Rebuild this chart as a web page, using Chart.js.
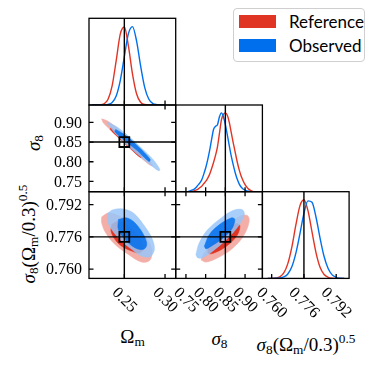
<!DOCTYPE html>
<html lang="en">
<head>
<meta charset="UTF-8" />
<title>Corner plot</title>
<script src="https://cdn.jsdelivr.net/npm/chart.js"></script>
<style>
    body {
        margin: 0;
        background: #fff;
    }
    #fig {
        position: relative;
        width: 374px;
        height: 374px;
        overflow: hidden;
        font-family: 'Liberation Serif', serif;
    }
    #fig canvas {
        position: absolute;
        left: 0;
        top: 0;
    }
    .title {
        position: absolute;
        font-size: 19px;
        line-height: 1;
        white-space: nowrap;
        transform: translate(-50%, -50%);
    }
    .title.rot {
        transform: translate(-50%, -50%) rotate(-90deg);
    }
    .title sub, .title sup {
        font-size: 70%;
        line-height: 0;
    }
    .title sub { vertical-align: -0.3em; }
    .title sup { vertical-align: 0.55em; }
    #legend {
        position: absolute;
        left: 233px;
        top: 8px;
        width: 132px;
        height: 54px;
        box-sizing: border-box;
        border: 1px solid #cfcfcf;
        border-radius: 4px;
        background: #fff;
        font-family: Lato, sans-serif;
        font-size: 17px;
    }
    .row { position: absolute; left: 0; height: 14px; }
    .sw { position: absolute; left: 5px; top: 0; width: 37px; height: 13px; }
    .txt { position: absolute; left: 55px; top: -3px; line-height: 20px; white-space: nowrap; }
</style>
</head>
<body>
<div id="fig">
    <div id="legend"></div>
    <div class="title rot" style="left:33px; top:143px"><i>σ</i><sub>8</sub></div>
    <div class="title rot" style="left:28px; top:234px"><i>σ</i><sub>8</sub>(Ω<sub>m</sub>/0.3)<sup>0.5</sup></div>
    <div class="title" style="left:132.5px; top:336px">Ω<sub>m</sub></div>
    <div class="title" style="left:219.5px; top:338px"><i>σ</i><sub>8</sub></div>
    <div class="title" style="left:306px; top:344px"><i>σ</i><sub>8</sub>(Ω<sub>m</sub>/0.3)<sup>0.5</sup></div>
</div>
<script>
// series
const seriesNames = ['Reference', 'Observed'];
const seriesColors = ['#E03424', '#006FED'];

// axis ranges and ticks
const omRange = [0.2066, 0.3131];
const sigRange = [0.724, 0.944];
const s8Range = [0.7554, 0.7984];
const pdfRange = [0, 1.1];
const omTicks = [0.25, 0.30];
const omTickText = ['0.25', '0.30'];
const sigTicks = [0.75, 0.80, 0.85, 0.90];
const sigTickText = ['0.75', '0.80', '0.85', '0.90'];
const s8Ticks = [0.760, 0.776, 0.792];
const s8TickText = ['0.760', '0.776', '0.792'];
const truth = { om: 0.25, sig: 0.85, s8: 0.776 };

// 1D marginals
const omGrid = [0.210, 0.215, 0.220, 0.225, 0.230, 0.235, 0.240, 0.245, 0.250, 0.255,
    0.260, 0.265, 0.270, 0.275, 0.280, 0.285, 0.290, 0.295, 0.300];
const omRed = [0, 0.0002, 0.002, 0.015, 0.073, 0.243, 0.563, 0.899, 0.989, 0.751,
    0.394, 0.142, 0.035, 0.006, 0.001, 0, 0, 0, 0];
const omBlue = [0, 0, 0, 0.001, 0.007, 0.032, 0.115, 0.31, 0.613, 0.905,
    0.995, 0.814, 0.496, 0.224, 0.076, 0.019, 0.004, 0.0005, 0];

const sigGrid = [0.750, 0.755, 0.760, 0.765, 0.770, 0.775, 0.780, 0.785, 0.790, 0.795,
    0.800, 0.805, 0.810, 0.815, 0.820, 0.825, 0.830, 0.835, 0.840, 0.845,
    0.850, 0.855, 0.860, 0.865, 0.870, 0.875, 0.880, 0.885, 0.890, 0.895,
    0.900, 0.905, 0.910, 0.915, 0.920];
const sigRed = [0, 0, 0, 0.005, 0.01, 0.02, 0.03, 0.05, 0.07, 0.10,
    0.13, 0.17, 0.22, 0.29, 0.37, 0.46, 0.57, 0.74, 0.91, 0.98,
    1.00, 0.97, 0.88, 0.75, 0.62, 0.50, 0.38, 0.28, 0.20, 0.14,
    0.09, 0.055, 0.03, 0.015, 0.005];
const sigBlue = [0, 0, 0.01, 0.02, 0.03, 0.05, 0.08, 0.11, 0.15, 0.22,
    0.30, 0.40, 0.52, 0.66, 0.79, 0.83, 0.85, 0.95, 1.00, 0.95,
    0.85, 0.72, 0.58, 0.45, 0.34, 0.24, 0.16, 0.10, 0.06, 0.035,
    0.02, 0.01, 0.005, 0, 0];

const s8Grid = [0.758, 0.760, 0.762, 0.764, 0.766, 0.768, 0.770, 0.772, 0.774, 0.776,
    0.778, 0.780, 0.782, 0.784, 0.786, 0.788, 0.790, 0.792, 0.794, 0.796];
const s8Red = [0, 0.001, 0.005, 0.02, 0.069, 0.187, 0.397, 0.678, 0.92, 0.997,
    0.86, 0.59, 0.325, 0.141, 0.05, 0.014, 0.003, 0, 0, 0];
const s8Blue = [0, 0, 0.001, 0.0045, 0.018, 0.056, 0.147, 0.32, 0.565, 0.825,
    0.984, 0.965, 0.776, 0.51, 0.278, 0.125, 0.045, 0.014, 0.003, 0];

// 2D contours, [x, y] outline points
const redOuterA = [[0.2222, 0.9088], [0.2304, 0.9021], [0.2427, 0.8819], [0.2591, 0.8508], [0.2734, 0.8215], [0.2836, 0.7963],
    [0.2844, 0.7895], [0.2795, 0.7946], [0.2631, 0.8231], [0.2468, 0.8525], [0.2324, 0.8819], [0.2242, 0.8987]];
const redInnerA = [[0.2337, 0.8870], [0.2468, 0.8634], [0.2631, 0.8315], [0.2722, 0.8131],
    [0.2693, 0.8114], [0.2570, 0.8340], [0.2427, 0.8618], [0.2328, 0.8819]];
const blueOuterA = [[0.2296, 0.9004], [0.2406, 0.8886], [0.2550, 0.8651], [0.2713, 0.8340], [0.2857, 0.8047], [0.2934, 0.7812],
    [0.2926, 0.7770], [0.2857, 0.7862], [0.2693, 0.8139], [0.2529, 0.8433], [0.2386, 0.8727], [0.2304, 0.8953]];
const blueInnerA = [[0.2394, 0.8819], [0.2509, 0.8676], [0.2672, 0.8382], [0.2816, 0.8063],
    [0.2803, 0.8005], [0.2652, 0.8298], [0.2488, 0.8567], [0.2386, 0.8760]];

const redOuterB = [[0.2222, 0.7859], [0.2304, 0.7878], [0.2427, 0.7865], [0.2591, 0.7829], [0.2754, 0.7763], [0.2836, 0.7698],
    [0.2816, 0.7645], [0.2713, 0.7635], [0.2550, 0.7673], [0.2386, 0.7722], [0.2271, 0.7780], [0.2222, 0.7829]];
const redInnerB = [[0.2345, 0.7821], [0.2427, 0.7837], [0.2550, 0.7813], [0.2672, 0.7763], [0.2734, 0.7706],
    [0.2693, 0.7681], [0.2591, 0.7690], [0.2468, 0.7714], [0.2386, 0.7747], [0.2337, 0.7788]];
const blueOuterB = [[0.2296, 0.7878], [0.2365, 0.7895], [0.2488, 0.7898], [0.2611, 0.7878], [0.2734, 0.7821], [0.2836, 0.7755],
    [0.2869, 0.7698], [0.2816, 0.7662], [0.2713, 0.7665], [0.2591, 0.7698], [0.2447, 0.7747], [0.2345, 0.7796], [0.2296, 0.7837]];
const blueInnerB = [[0.2427, 0.7846], [0.2529, 0.7854], [0.2631, 0.7829], [0.2734, 0.7772], [0.2775, 0.7722],
    [0.2734, 0.7698], [0.2631, 0.7706], [0.2509, 0.7747], [0.2427, 0.7796]];

const redOuterC = [[0.7883, 0.7645], [0.7968, 0.7681], [0.8226, 0.7739], [0.8569, 0.7813], [0.8869, 0.7862], [0.9066, 0.7865],
    [0.9100, 0.7832], [0.8955, 0.7763], [0.8654, 0.7698], [0.8311, 0.7657], [0.8011, 0.7635]];
const redInnerC = [[0.8054, 0.7698], [0.8226, 0.7747], [0.8526, 0.7800], [0.8783, 0.7826], [0.8869, 0.7813],
    [0.8783, 0.7763], [0.8526, 0.7714], [0.8226, 0.7681], [0.8071, 0.7678]];
const blueOuterC = [[0.7754, 0.7673], [0.7840, 0.7731], [0.8054, 0.7796], [0.8397, 0.7854], [0.8697, 0.7891], [0.8929, 0.7895],
    [0.8980, 0.7870], [0.8826, 0.7813], [0.8526, 0.7747], [0.8183, 0.7690], [0.7925, 0.7657], [0.7797, 0.7657]];
const blueInnerC = [[0.7968, 0.7714], [0.8097, 0.7772], [0.8354, 0.7821], [0.8654, 0.7854], [0.8740, 0.7846],
    [0.8654, 0.7796], [0.8397, 0.7747], [0.8140, 0.7714], [0.8011, 0.7701]];

const TICK_FONT = '16px "Liberation Serif", "DejaVu Serif", serif';

// legend
const legend = document.getElementById('legend');
seriesNames.forEach((name, i) => {
    const row = document.createElement('div');
    row.className = 'row';
    row.style.top = (6 + i * 24.3) + 'px';
    row.innerHTML = `<div class="sw" style="background:${seriesColors[i]}"></div><div class="txt">${name}</div>`;
    legend.appendChild(row);
});

// colours for filled contours (outer level is the paled colour)
function pale(hex, f) {
    const n = parseInt(hex.slice(1), 16);
    const c = [n >> 16, (n >> 8) & 255, n & 255].map((v) => Math.round(v * (1 - f) + 255 * f));
    return `rgb(${c.join(',')})`;
}
function withAlpha(col, a) {
    return col.replace('rgb(', 'rgba(').replace(')', `,${a})`);
}

// frame, inward ticks and tick labels
const framePlugin = {
    id: 'frame',
    afterDatasetsDraw(chart, args, o) {
        const { ctx, chartArea: a, scales } = chart;
        const x = scales.x, y = scales.y;
        const TL = 4.5;
        ctx.save();
        ctx.strokeStyle = '#000';
        ctx.lineWidth = 1.3;
        ctx.beginPath();
        o.xTicks.forEach((v) => {
            const px = x.getPixelForValue(v);
            ctx.moveTo(px, a.bottom); ctx.lineTo(px, a.bottom - TL);
            if (o.allSides) { ctx.moveTo(px, a.top); ctx.lineTo(px, a.top + TL); }
        });
        (o.yTicks || []).forEach((v) => {
            const py = y.getPixelForValue(v);
            ctx.moveTo(a.left, py); ctx.lineTo(a.left + TL, py);
            ctx.moveTo(a.right, py); ctx.lineTo(a.right - TL, py);
        });
        ctx.stroke();
        ctx.strokeRect(a.left, a.top, a.right - a.left, a.bottom - a.top);

        ctx.fillStyle = '#000';
        ctx.font = TICK_FONT;
        if (o.yText) {
            ctx.textAlign = 'right';
            ctx.textBaseline = 'middle';
            o.yTicks.forEach((v, i) => ctx.fillText(o.yText[i], a.left - 7, y.getPixelForValue(v) + 1));
        }
        if (o.xText) {
            o.xTicks.forEach((v, i) => {
                const t = o.xText[i];
                const w = ctx.measureText(t).width;
                const half = (w + 11) * Math.SQRT1_2 / 2;
                ctx.save();
                ctx.translate(x.getPixelForValue(v), a.bottom + 8 + half);
                ctx.rotate(Math.PI / 4);
                ctx.textAlign = 'center';
                ctx.textBaseline = 'middle';
                ctx.fillText(t, 0, 0);
                ctx.restore();
            });
        }
        ctx.restore();
    },
};

const cell = 86.7;
function padFor(col, row) {
    const l = 89 + col * cell, t = 18.3 + row * cell;
    return { left: l, top: t, right: 374 - (l + cell), bottom: 374 - (t + cell) };
}

const toPts = (grid, vals) => grid.map((g, i) => ({ x: g, y: vals[i] }));
const toLoop = (arr) => arr.concat([arr[0]]).map((p) => ({ x: p[0], y: p[1] }));

function curve(grid, vals, color, order) {
    return {
        data: toPts(grid, vals), borderColor: color, borderWidth: 1.4,
        cubicInterpolationMode: 'monotone', fill: false, order,
    };
}
function contour(pts, color, order) {
    return {
        data: toLoop(pts), backgroundColor: color, borderColor: color, borderWidth: 0.6,
        fill: 'shape', tension: 0.35, order,
    };
}
function vline(v, range) {
    return { data: [{ x: v, y: range[0] }, { x: v, y: range[1] }], borderColor: '#000', borderWidth: 1.4, fill: false, order: 1 };
}
function hline(v, range) {
    return { data: [{ x: range[0], y: v }, { x: range[1], y: v }], borderColor: '#000', borderWidth: 1.4, fill: false, order: 1 };
}
function marker(xv, yv) {
    return {
        data: [{ x: xv, y: yv }], showLine: false, pointStyle: 'rect', pointRadius: 7,
        pointBorderColor: '#000', pointBackgroundColor: 'rgba(0,0,0,0)', pointBorderWidth: 1.8, order: 0,
    };
}
function contourSet(ro, ri, bo, bi) {
    const red = seriesColors[0], blue = seriesColors[1];
    return [
        contour(bi, withAlpha(pale(blue, 0), 0.85), 2),
        contour(bo, withAlpha(pale(blue, 0.6), 0.85), 3),
        contour(ri, pale(red, 0), 4),
        contour(ro, pale(red, 0.6), 5),
    ];
}

function addPanel(col, row, xr, yr, datasets, frame) {
    const c = document.createElement('canvas');
    c.width = 374;
    c.height = 374;
    document.getElementById('fig').appendChild(c);
    return new Chart(c, {
        type: 'line',
        data: { datasets },
        options: {
            responsive: false,
            animation: false,
            events: [],
            devicePixelRatio: 1,
            layout: { padding: padFor(col, row) },
            elements: { point: { radius: 0 } },
            scales: {
                x: { type: 'linear', min: xr[0], max: xr[1], display: false },
                y: { type: 'linear', min: yr[0], max: yr[1], display: false },
            },
            plugins: { legend: { display: false }, tooltip: { enabled: false }, frame },
        },
        plugins: [framePlugin],
    });
}

function drawAll() {
    // diagonal: Omega_m
    addPanel(0, 0, omRange, pdfRange, [
        vline(truth.om, pdfRange),
        curve(omGrid, omBlue, seriesColors[1], 2),
        curve(omGrid, omRed, seriesColors[0], 3),
    ], { xTicks: omTicks });

    // sigma8 vs Omega_m
    addPanel(0, 1, omRange, sigRange, [
        marker(truth.om, truth.sig),
        vline(truth.om, sigRange),
        hline(truth.sig, omRange),
        ...contourSet(redOuterA, redInnerA, blueOuterA, blueInnerA),
    ], { xTicks: omTicks, yTicks: sigTicks, allSides: true, yText: sigTickText });

    // diagonal: sigma8
    addPanel(1, 1, sigRange, pdfRange, [
        vline(truth.sig, pdfRange),
        curve(sigGrid, sigBlue, seriesColors[1], 2),
        curve(sigGrid, sigRed, seriesColors[0], 3),
    ], { xTicks: sigTicks });

    // S8 vs Omega_m
    addPanel(0, 2, omRange, s8Range, [
        marker(truth.om, truth.s8),
        vline(truth.om, s8Range),
        hline(truth.s8, omRange),
        ...contourSet(redOuterB, redInnerB, blueOuterB, blueInnerB),
    ], { xTicks: omTicks, yTicks: s8Ticks, allSides: true, yText: s8TickText, xText: omTickText });

    // S8 vs sigma8
    addPanel(1, 2, sigRange, s8Range, [
        marker(truth.sig, truth.s8),
        vline(truth.sig, s8Range),
        hline(truth.s8, sigRange),
        ...contourSet(redOuterC, redInnerC, blueOuterC, blueInnerC),
    ], { xTicks: sigTicks, yTicks: s8Ticks, allSides: true, xText: sigTickText });

    // diagonal: S8
    addPanel(2, 2, s8Range, pdfRange, [
        vline(truth.s8, pdfRange),
        curve(s8Grid, s8Blue, seriesColors[1], 2),
        curve(s8Grid, s8Red, seriesColors[0], 3),
    ], { xTicks: s8Ticks, xText: s8TickText });
}

document.fonts.load(TICK_FONT).then(drawAll, drawAll);
</script>
</body>
</html>
